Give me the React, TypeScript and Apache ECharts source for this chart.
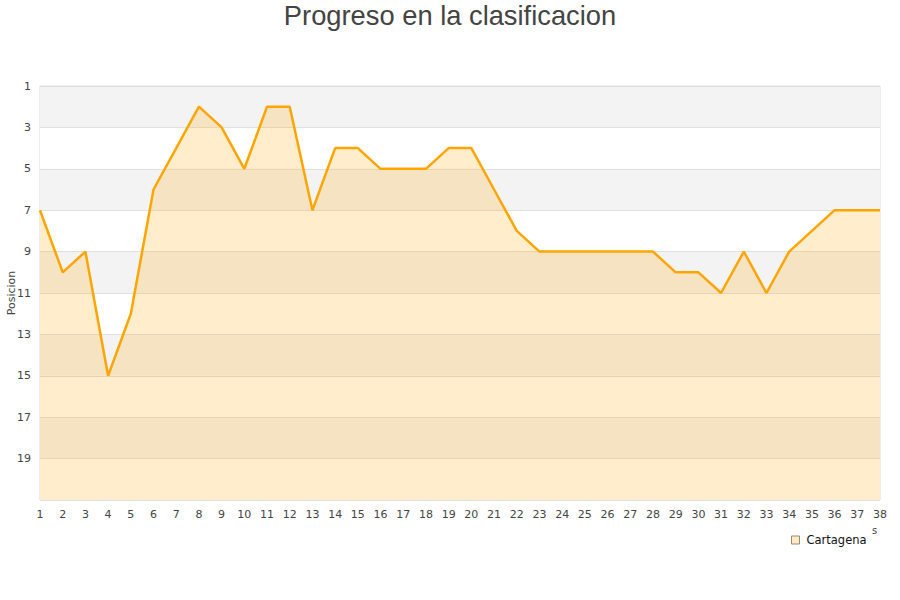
import React, { useEffect, useRef } from "react";
import * as echarts from "echarts";

const title = "Progreso en la clasificacion";
const seriesName = "Cartagena";
const yAxisName = "Posicion";
const jornadas = Array.from({ length: 38 }, (_, i) => String(i + 1));
const posiciones = [7, 10, 9, 15, 12, 6, 4, 2, 3, 5, 2, 2, 7, 4, 4, 5, 5, 5, 4, 4, 6, 8, 9, 9, 9, 9, 9, 9, 10, 10, 11, 9, 11, 9, 8, 7, 7, 7];

export default function App() {
  const ref = useRef<HTMLDivElement>(null);
  useEffect(() => {
    const chart = echarts.init(ref.current!, undefined, { renderer: "svg" });
    chart.setOption({
      animation: false,
      backgroundColor: "#ffffff",
      title: {
        text: title,
        left: "center",
        top: -3,
        textStyle: { fontFamily: "Liberation Sans, Arial, sans-serif", fontSize: 27.3, fontWeight: "normal", color: "#444" },
      },
      legend: {
        data: [{ name: seriesName, icon: "rect", itemStyle: { color: "#fde9c4", borderColor: "#9a8a70", borderWidth: 1 } }],
        left: 786,
        top: 529,
        itemWidth: 8,
        itemHeight: 8,
        itemGap: 8,
        textStyle: { fontFamily: "DejaVu Sans, sans-serif", fontSize: 11.5, color: "#111", padding: [0, 0, 0, 2] },
      },
      grid: {
        left: 40,
        right: 20,
        top: 86,
        bottom: 100,
        containLabel: false,
        outerBoundsMode: "none",
        show: true,
        borderColor: "#dddddd",
        borderWidth: 1,
        backgroundColor: "transparent",
      },
      xAxis: {
        type: "category",
        data: jornadas,
        boundaryGap: false,
        axisLine: { show: false },
        axisTick: { show: false },
        axisLabel: { interval: 0, margin: 9, fontFamily: "DejaVu Sans, sans-serif", fontSize: 11, color: "#444" },
        splitLine: { show: false },
      },
      yAxis: {
        type: "value",
        inverse: true,
        min: 1,
        max: 21,
        interval: 2,
        axisLine: { show: false },
        axisTick: { show: false },
        axisLabel: {
          margin: 9,
          fontFamily: "DejaVu Sans, sans-serif",
          fontSize: 11,
          color: "#444",
          showMaxLabel: false,
        },
        splitLine: { show: true, lineStyle: { color: "#e0e0e0", width: 1 } },
        splitArea: { show: true, areaStyle: { color: ["#f3f3f3", "#ffffff"] } },
      },
      graphic: [
        {
          type: "text",
          x: 11,
          y: 293,
          rotation: Math.PI / 2,
          style: {
            text: yAxisName,
            fontFamily: "DejaVu Sans, sans-serif",
            fontSize: 11,
            fill: "#444",
            align: "center",
            verticalAlign: "middle",
          },
        },
        { type: "text", left: 872, top: 525, style: { text: "s", fontFamily: "DejaVu Sans, sans-serif", fontSize: 10, fill: "#444" } },
      ],
      series: [
        {
          name: seriesName,
          type: "line",
          data: posiciones,
          showSymbol: false,
          symbol: "none",
          lineStyle: { color: "#ffa500", width: 2.5 },
          itemStyle: { color: "#ffa500" },
          areaStyle: { origin: "end", color: "rgba(255,165,0,0.2)", opacity: 1 },
        },
      ],
    });
    return () => chart.dispose();
  }, []);
  return <div ref={ref} style={{ position: "fixed", left: 0, top: 0, width: 900, height: 600 }} />;
}
